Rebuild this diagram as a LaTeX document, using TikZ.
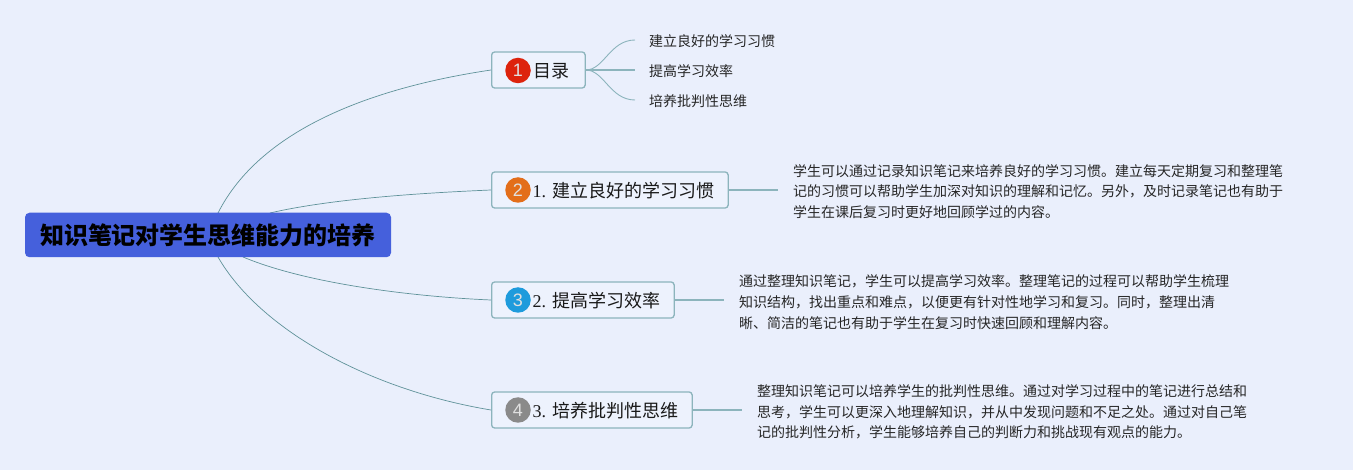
\documentclass[tikz,border=0pt]{standalone}
\usepackage{fontspec}
\setmainfont{Liberation Serif}
\newfontfamily\cjk{Noto Sans CJK SC}
\newfontfamily\numfont{Liberation Sans}
\definecolor{bgc}{HTML}{EAEFFC}
\definecolor{rootc}{HTML}{4560DC}
\definecolor{boxfill}{HTML}{EDF2FD}
\definecolor{boxline}{HTML}{8CB4BC}
\definecolor{thin}{HTML}{5F9299}
\definecolor{bdga}{HTML}{DD230C}
\definecolor{bdgb}{HTML}{E36E1A}
\definecolor{bdgc}{HTML}{1E9BDC}
\definecolor{bdgd}{HTML}{8A8A8A}
\tikzset{
 x=1pt,y=-1pt,
 rootbox/.style={draw=none,fill=rootc,rounded corners=4.5pt,minimum width=366pt,minimum height=44.5pt,inner sep=0pt,font=\fontsize{24}{28}\selectfont\cjk\bfseries,text=black},
 branch/.style={draw=boxline,line width=1.3pt,fill=boxfill,rounded corners=3pt,minimum height=36pt,inner sep=0pt,anchor=west},
 badge/.style={circle,minimum size=25.5pt,inner sep=0pt,text=white!88!black,font=\fontsize{18}{18}\selectfont\numfont},
 btext/.style={inner sep=0pt,anchor=west,font=\fontsize{18}{22}\selectfont,text=black!90},
 leaf/.style={inner sep=0pt,anchor=west,font=\fontsize{14}{17}\selectfont\cjk,text=black!85},
 note/.style={inner sep=0pt,anchor=west,align=left,font=\fontsize{14}{20.7}\selectfont\cjk,text=black!85},
 thinline/.style={draw=thin,line width=0.7pt},
 link/.style={draw=boxline,line width=1.2pt},
}
\begin{document}
\begin{tikzpicture}
\useasboundingbox (0,0) rectangle (1353,470);
\fill[bgc] (0,0) rectangle (1353,470);
% free ends on the root
\coordinate (ra) at (218,213);
\coordinate (rb) at (270,213);
\coordinate (rc) at (243,257);
\coordinate (rd) at (218,257);
% ends of the outgoing stubs
\coordinate (e1) at (635,40);
\coordinate (e2) at (635,70);
\coordinate (e3) at (635,100);
\coordinate (e4) at (778,190);
\coordinate (e5) at (724,300);
\coordinate (e6) at (742,410);

\node[branch,minimum width=93.5pt] (b1) at (491,70) {};
\node[branch,minimum width=236.5pt] (b2) at (491,190) {};
\node[branch,minimum width=182.5pt] (b3) at (491,300) {};
\node[branch,minimum width=200.5pt] (b4) at (491,410) {};

\draw[thinline] (ra) .. controls (260,130) and (370,88) .. (b1.west);
\draw[thinline] (rb) .. controls (330,199) and (420,193) .. (b2.west);
\draw[thinline] (rc) .. controls (310,285) and (420,297) .. (b3.west);
\draw[thinline] (rd) .. controls (260,330) and (370,390) .. (b4.west);

\draw[link,line width=0.9pt] (b1.east) .. controls (604,70) and (610,40) .. (e1);
\draw[link] (b1.east) -- (e2);
\draw[link,line width=0.9pt] (b1.east) .. controls (604,70) and (610,100) .. (e3);
\draw[link] (b2.east) -- (e4);
\draw[link] (b3.east) -- (e5);
\draw[link] (b4.east) -- (e6);

\node[rootbox] (root) at (208,235) {知识笔记对学生思维能力的培养};

\node[badge,fill=bdga] (c1) at (518,70.5) {1};
\node[badge,fill=bdgb] (c2) at (518,190) {2};
\node[badge,fill=bdgc] (c3) at (518,300) {3};
\node[badge,fill=bdgd] (c4) at (518,410) {4};

\node[btext] (t1) at (533,71) {\cjk 目录};
\node[btext] (t2) at (532.5,191) {1. {\cjk 建立良好的学习习惯}};
\node[btext] (t3) at (532.5,301) {2. {\cjk 提高学习效率}};
\node[btext] (t4) at (532.5,411) {3. {\cjk 培养批判性思维}};

\node[leaf] (l1) at (649,41) {建立良好的学习习惯};
\node[leaf] (l2) at (649,71) {提高学习效率};
\node[leaf] (l3) at (649,101) {培养批判性思维};

\node[note] (n1) at (793,191.5) {学生可以通过记录知识笔记来培养良好的学习习惯。建立每天定期复习和整理笔\\记的习惯可以帮助学生加深对知识的理解和记忆。另外，及时记录笔记也有助于\\学生在课后复习时更好地回顾学过的内容。};
\node[note] (n2) at (739,302) {通过整理知识笔记，学生可以提高学习效率。整理笔记的过程可以帮助学生梳理\\知识结构，找出重点和难点，以便更有针对性地学习和复习。同时，整理出清\\晰、简洁的笔记也有助于学生在复习时快速回顾和理解内容。};
\node[note] (n3) at (757,412) {整理知识笔记可以培养学生的批判性思维。通过对学习过程中的笔记进行总结和\\思考，学生可以更深入地理解知识，并从中发现问题和不足之处。通过对自己笔\\记的批判性分析，学生能够培养自己的判断力和挑战现有观点的能力。};
\end{tikzpicture}
\end{document}
